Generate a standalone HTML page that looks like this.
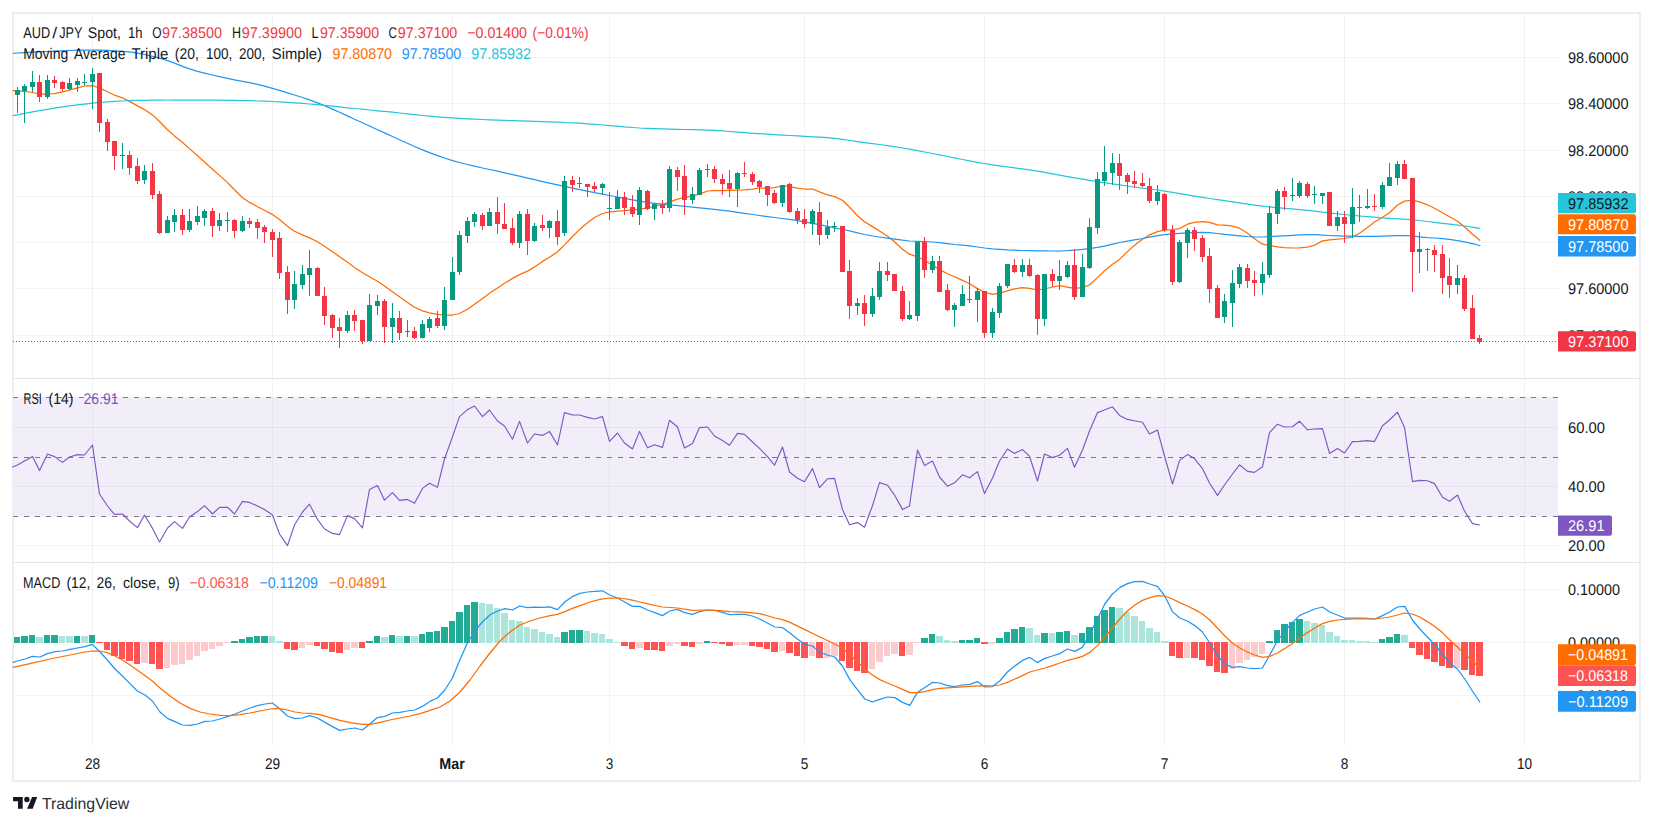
<!DOCTYPE html>
<html><head><meta charset="utf-8"><title>AUD/JPY Spot 1h - TradingView</title>
<style>html,body{margin:0;padding:0;background:#fff}body{width:1653px;height:825px;overflow:hidden}svg{display:block}</style>
</head><body>
<svg width="1653" height="825" viewBox="0 0 1653 825" font-family='"Liberation Sans", Arial, sans-serif' font-size="15.5" text-rendering="geometricPrecision">
<rect width="1653" height="825" fill="#fff"/>
<rect x="13" y="397" width="1545" height="120" fill="#7e57c2" fill-opacity="0.1"/>
<path d="M92.5 13V745.5M272.5 13V745.5M452.5 13V745.5M609.5 13V745.5M804.5 13V745.5M984.5 13V745.5M1164.5 13V745.5M1344.5 13V745.5M1524.5 13V745.5M13 57.5H1558M13 103.5H1558M13 150.5H1558M13 196.5H1558M13 242.5H1558M13 288.5H1558M13 335.5H1558M13 427.5H1558M13 486.5H1558M13 545.5H1558M13 589.5H1558M13 642.5H1558M13 695.5H1558" stroke="#2a2e39" stroke-opacity="0.06" stroke-width="1" fill="none"/>
<path d="M13 378.5H1640M13 562.5H1640" stroke="#e0e3eb" stroke-width="1" fill="none"/>
<rect x="13" y="13" width="1627" height="768" fill="none" stroke="#eceef3" stroke-width="2"/>
<path d="M13 397.5H1558M13 457.5H1558M13 516.5H1558" stroke="#787b86" stroke-width="1" stroke-dasharray="5 6" fill="none"/>
<path d="M13.0 90.6L17.5 90.8L24.5 91.4L32.5 92.5L39.5 94.0L47.5 94.0L54.5 93.7L62.5 91.9L69.5 90.1L77.5 87.9L84.5 86.0L92.5 85.7L99.5 87.9L107.5 91.8L114.5 95.2L122.5 97.8L129.5 101.4L137.5 105.9L144.5 109.6L152.5 114.9L159.5 121.5L167.5 129.7L174.5 135.9L182.5 142.6L189.5 148.6L197.5 155.7L204.5 162.0L212.5 169.2L219.5 175.4L227.5 182.6L234.5 189.8L242.5 197.8L249.5 202.4L257.5 206.7L264.5 210.2L272.5 214.6L279.5 219.6L287.5 226.2L294.5 231.3L302.5 234.9L309.5 237.9L317.5 241.8L324.5 246.2L332.5 251.7L339.5 256.7L347.5 262.3L354.5 267.4L362.5 272.7L369.5 276.7L377.5 281.3L384.5 286.0L392.5 291.7L399.5 296.7L407.5 302.4L414.5 307.2L422.5 310.9L429.5 312.9L437.5 314.3L444.5 315.0L452.5 315.0L459.5 313.5L467.5 309.2L474.5 304.3L482.5 298.4L489.5 293.3L497.5 287.9L504.5 283.3L512.5 278.4L519.5 274.6L527.5 271.2L534.5 266.9L542.5 261.4L549.5 257.2L557.5 251.8L564.5 244.9L572.5 236.5L579.5 229.6L587.5 222.8L594.5 217.5L602.5 213.5L609.5 211.9L617.5 211.1L624.5 210.6L632.5 209.9L639.5 209.1L647.5 207.8L654.5 206.5L662.5 204.4L669.5 202.1L677.5 199.1L684.5 197.5L692.5 195.9L699.5 194.2L707.5 191.0L714.5 190.7L722.5 190.6L729.5 190.4L737.5 190.1L744.5 189.8L752.5 189.1L759.5 188.0L767.5 188.0L774.5 187.7L782.5 186.0L789.5 186.7L797.5 188.1L804.5 189.0L812.5 189.0L819.5 191.9L827.5 194.9L834.5 196.6L842.5 200.3L849.5 207.3L857.5 215.8L864.5 221.7L872.5 226.6L879.5 231.0L887.5 236.2L894.5 241.7L902.5 249.2L909.5 254.2L917.5 256.8L924.5 260.2L932.5 265.3L939.5 269.6L947.5 273.7L954.5 276.8L962.5 280.4L969.5 283.7L977.5 288.6L984.5 292.2L992.5 294.4L999.5 293.1L1007.5 290.8L1014.5 288.9L1022.5 287.6L1029.5 288.4L1037.5 290.0L1044.5 289.0L1052.5 287.0L1059.5 285.6L1067.5 287.1L1074.5 288.4L1082.5 287.7L1089.5 285.0L1097.5 277.6L1104.5 270.8L1112.5 264.2L1119.5 259.4L1127.5 251.6L1134.5 245.3L1142.5 239.3L1149.5 234.8L1157.5 231.6L1164.5 230.2L1172.5 229.5L1179.5 228.6L1187.5 224.2L1194.5 222.4L1202.5 221.6L1209.5 222.3L1217.5 224.9L1224.5 225.2L1232.5 226.1L1239.5 228.2L1247.5 233.2L1254.5 238.7L1262.5 244.2L1269.5 245.6L1277.5 246.8L1284.5 247.6L1292.5 248.0L1299.5 247.8L1307.5 247.2L1314.5 245.2L1322.5 240.9L1329.5 239.9L1337.5 239.2L1344.5 238.5L1352.5 236.8L1359.5 233.3L1367.5 227.5L1374.5 222.0L1382.5 217.3L1389.5 212.8L1397.5 205.0L1404.5 201.1L1412.5 200.2L1419.5 201.9L1427.5 204.8L1434.5 208.2L1442.5 212.7L1449.5 216.8L1457.5 221.3L1464.5 226.8L1472.5 234.2L1479.5 240.1L1479.8 240.4" stroke="#ff6d00" stroke-width="1.25" fill="none" stroke-linejoin="round" stroke-linecap="round"/>
<path d="M13.3 53.3L17.5 53.0L24.5 52.6L32.5 52.2L39.5 51.9L47.5 51.5L54.5 51.2L62.5 50.8L69.5 50.5L77.5 50.2L84.5 50.1L92.5 50.0L99.5 50.1L107.5 50.4L114.5 50.8L122.5 51.3L129.5 51.9L137.5 53.1L144.5 54.5L152.5 56.4L159.5 58.2L167.5 60.6L174.5 63.2L182.5 66.4L189.5 68.9L197.5 71.3L204.5 73.1L212.5 75.0L219.5 76.6L227.5 78.4L234.5 79.9L242.5 81.4L249.5 82.7L257.5 84.4L264.5 86.1L272.5 88.3L279.5 90.4L287.5 92.9L294.5 95.0L302.5 97.5L309.5 99.8L317.5 102.8L324.5 105.7L332.5 109.1L339.5 112.2L347.5 115.9L354.5 119.2L362.5 122.8L369.5 126.0L377.5 129.7L384.5 132.9L392.5 136.5L399.5 139.7L407.5 143.3L414.5 146.5L422.5 149.9L429.5 152.7L437.5 155.6L444.5 158.0L452.5 160.6L459.5 162.5L467.5 164.5L474.5 166.1L482.5 168.0L489.5 169.5L497.5 171.2L504.5 172.8L512.5 174.6L519.5 176.2L527.5 178.1L534.5 179.7L542.5 181.6L549.5 183.2L557.5 184.9L564.5 186.4L572.5 188.1L579.5 189.6L587.5 191.2L594.5 192.6L602.5 194.2L609.5 195.5L617.5 197.0L624.5 198.4L632.5 199.9L639.5 201.1L647.5 202.4L654.5 203.3L662.5 204.2L669.5 204.9L677.5 205.6L684.5 206.3L692.5 207.1L699.5 207.8L707.5 208.6L714.5 209.4L722.5 210.3L729.5 211.2L737.5 212.4L744.5 213.4L752.5 214.5L759.5 215.5L767.5 216.6L774.5 217.5L782.5 218.5L789.5 219.4L797.5 220.6L804.5 221.8L812.5 223.3L819.5 224.7L827.5 226.4L834.5 227.9L842.5 229.5L849.5 230.9L857.5 232.8L864.5 234.5L872.5 236.0L879.5 237.0L887.5 238.1L894.5 239.1L902.5 240.2L909.5 241.0L917.5 241.3L924.5 241.5L932.5 242.0L939.5 242.7L947.5 243.7L954.5 244.5L962.5 245.2L969.5 245.9L977.5 247.0L984.5 248.0L992.5 248.8L999.5 249.3L1007.5 249.9L1014.5 250.2L1022.5 250.5L1029.5 250.6L1037.5 250.8L1044.5 250.9L1052.5 251.0L1059.5 251.0L1067.5 250.7L1074.5 250.1L1082.5 249.4L1089.5 248.6L1097.5 247.4L1104.5 246.1L1112.5 244.1L1119.5 242.5L1127.5 241.1L1134.5 239.9L1142.5 238.5L1149.5 237.1L1157.5 235.7L1164.5 234.7L1172.5 233.9L1179.5 233.3L1187.5 232.9L1194.5 232.6L1202.5 232.4L1209.5 232.6L1217.5 233.5L1224.5 234.4L1232.5 235.2L1239.5 235.8L1247.5 236.5L1254.5 236.9L1262.5 237.0L1269.5 236.7L1277.5 236.1L1284.5 235.8L1292.5 235.3L1299.5 234.9L1307.5 234.6L1314.5 234.7L1322.5 235.1L1329.5 235.5L1337.5 235.9L1344.5 236.1L1352.5 236.2L1359.5 236.3L1367.5 236.4L1374.5 236.4L1382.5 236.1L1389.5 235.8L1397.5 235.6L1404.5 235.6L1412.5 235.8L1419.5 236.9L1427.5 237.6L1434.5 238.0L1442.5 238.6L1449.5 239.4L1457.5 240.6L1464.5 241.8L1472.5 243.6L1479.5 245.5L1479.8 245.6" stroke="#2196f3" stroke-width="1.25" fill="none" stroke-linejoin="round" stroke-linecap="round"/>
<path d="M13.3 115.7L17.5 114.8L24.5 113.4L32.5 111.9L39.5 110.6L47.5 109.3L54.5 108.1L62.5 106.9L69.5 105.9L77.5 104.9L84.5 104.1L92.5 103.2L99.5 102.5L107.5 101.9L114.5 101.4L122.5 101.0L129.5 100.7L137.5 100.4L144.5 100.3L152.5 100.2L159.5 100.1L167.5 100.0L174.5 100.0L182.5 100.0L189.5 100.0L197.5 100.1L204.5 100.1L212.5 100.2L219.5 100.2L227.5 100.3L234.5 100.4L242.5 100.6L249.5 100.7L257.5 101.0L264.5 101.2L272.5 101.5L279.5 101.8L287.5 102.3L294.5 102.8L302.5 103.4L309.5 104.0L317.5 104.7L324.5 105.4L332.5 106.2L339.5 106.9L347.5 107.8L354.5 108.5L362.5 109.2L369.5 110.0L377.5 110.8L384.5 111.4L392.5 112.2L399.5 113.0L407.5 113.8L414.5 114.6L422.5 115.5L429.5 116.2L437.5 116.9L444.5 117.4L452.5 117.9L459.5 118.4L467.5 118.8L474.5 119.2L482.5 119.5L489.5 119.9L497.5 120.2L504.5 120.4L512.5 120.7L519.5 120.9L527.5 121.2L534.5 121.4L542.5 121.7L549.5 121.9L557.5 122.2L564.5 122.5L572.5 122.8L579.5 123.2L587.5 123.8L594.5 124.3L602.5 125.0L609.5 125.6L617.5 126.2L624.5 126.9L632.5 127.5L639.5 128.0L647.5 128.3L654.5 128.6L662.5 128.9L669.5 129.1L677.5 129.3L684.5 129.5L692.5 129.7L699.5 129.9L707.5 130.2L714.5 130.4L722.5 130.9L729.5 131.5L737.5 132.2L744.5 132.7L752.5 133.3L759.5 133.7L767.5 134.2L774.5 134.7L782.5 135.1L789.5 135.5L797.5 135.9L804.5 136.3L812.5 136.8L819.5 137.2L827.5 137.7L834.5 138.3L842.5 139.3L849.5 140.5L857.5 141.7L864.5 142.6L872.5 143.6L879.5 144.5L887.5 145.6L894.5 146.7L902.5 148.0L909.5 149.2L917.5 150.7L924.5 152.0L932.5 153.5L939.5 154.9L947.5 156.5L954.5 157.9L962.5 159.5L969.5 160.8L977.5 162.3L984.5 163.5L992.5 164.8L999.5 165.8L1007.5 166.9L1014.5 167.8L1022.5 168.9L1029.5 169.9L1037.5 171.2L1044.5 172.4L1052.5 173.9L1059.5 175.1L1067.5 176.6L1074.5 177.8L1082.5 179.1L1089.5 180.3L1097.5 181.6L1104.5 182.7L1112.5 183.9L1119.5 184.9L1127.5 186.0L1134.5 187.0L1142.5 188.1L1149.5 189.0L1157.5 190.0L1164.5 191.1L1172.5 192.4L1179.5 193.6L1187.5 194.9L1194.5 196.1L1202.5 197.4L1209.5 198.5L1217.5 199.7L1224.5 200.7L1232.5 201.9L1239.5 202.9L1247.5 204.1L1254.5 205.1L1262.5 206.2L1269.5 207.0L1277.5 207.7L1284.5 208.3L1292.5 208.9L1299.5 209.6L1307.5 210.4L1314.5 211.2L1322.5 212.2L1329.5 212.9L1337.5 213.8L1344.5 214.5L1352.5 215.3L1359.5 216.0L1367.5 216.7L1374.5 217.2L1382.5 217.9L1389.5 218.4L1397.5 218.8L1404.5 219.2L1412.5 219.8L1419.5 220.5L1427.5 221.5L1434.5 222.3L1442.5 223.3L1449.5 224.1L1457.5 225.1L1464.5 226.0L1472.5 227.2L1479.5 228.3L1479.8 228.4" stroke="#26c6da" stroke-width="1.25" fill="none" stroke-linejoin="round" stroke-linecap="round"/>
<path d="M17.5 87V113M24.5 84V123M32.5 71V92M47.5 75V99M69.5 78V90M77.5 78V92M84.5 74V86M92.5 68V109M122.5 143V169M144.5 165V184M167.5 216V233M174.5 209V232M189.5 209V232M197.5 206V225M204.5 209V226M219.5 213V231M227.5 212V232M242.5 216V232M294.5 271V309M302.5 265V289M309.5 250V296M347.5 311V333M369.5 294V341M377.5 295V315M392.5 303V343M407.5 320V337M422.5 320V338M429.5 317V332M444.5 287V330M452.5 257V300M459.5 231V275M467.5 217V243M474.5 212V227M489.5 208V226M519.5 211V248M534.5 223V242M549.5 220V238M564.5 176V236M602.5 183V195M609.5 192V220M617.5 190V209M639.5 187V225M654.5 204V220M669.5 166V212M692.5 187V204M699.5 168V195M707.5 164V177M737.5 172V207M782.5 185V207M812.5 209V235M827.5 220V239M834.5 222V232M857.5 298V315M872.5 288V317M879.5 262V300M909.5 301V320M917.5 242V321M932.5 256V273M954.5 303V327M962.5 285V306M969.5 276V303M977.5 288V322M992.5 308V338M999.5 283V318M1007.5 264V288M1022.5 259V277M1044.5 274V326M1059.5 260V290M1067.5 261V278M1082.5 254V297M1089.5 218V269M1097.5 172V234M1104.5 146V186M1112.5 153V185M1157.5 185V205M1179.5 240V283M1187.5 228V258M1224.5 294V323M1232.5 270V327M1239.5 264V288M1262.5 262V295M1269.5 206V278M1277.5 189V224M1292.5 178V201M1299.5 181V198M1314.5 186V204M1322.5 193V204M1337.5 211V231M1352.5 188V238M1359.5 195V222M1367.5 189V209M1382.5 182V209M1389.5 163V186M1397.5 161V185M1419.5 232V273M1457.5 265V294" stroke="#089981" stroke-width="1" fill="none"/>
<path d="M15.0 90h5v5h-5zM22.0 86h5v5h-5zM30.0 82h5v5h-5zM45.0 80h5v17h-5zM67.0 83h5v6h-5zM75.0 81h5v4h-5zM82.0 82h5v1h-5zM90.0 74h5v8h-5zM120.0 155h5v1h-5zM142.0 171h5v9h-5zM165.0 220h5v13h-5zM172.0 215h5v7h-5zM187.0 221h5v9h-5zM195.0 216h5v6h-5zM202.0 211h5v7h-5zM217.0 220h5v6h-5zM225.0 220h5v1h-5zM240.0 221h5v10h-5zM292.0 284h5v16h-5zM300.0 274h5v11h-5zM307.0 268h5v7h-5zM345.0 315h5v16h-5zM367.0 305h5v36h-5zM375.0 301h5v5h-5zM390.0 318h5v9h-5zM405.0 331h5v1h-5zM420.0 324h5v14h-5zM427.0 319h5v9h-5zM442.0 300h5v26h-5zM450.0 272h5v28h-5zM457.0 235h5v37h-5zM465.0 221h5v15h-5zM472.0 214h5v8h-5zM487.0 212h5v14h-5zM517.0 214h5v29h-5zM532.0 226h5v15h-5zM547.0 221h5v7h-5zM562.0 181h5v52h-5zM600.0 184h5v4h-5zM607.0 208h5v1h-5zM615.0 197h5v12h-5zM637.0 190h5v25h-5zM652.0 204h5v5h-5zM667.0 169h5v39h-5zM690.0 194h5v6h-5zM697.0 170h5v25h-5zM705.0 169h5v1h-5zM735.0 173h5v16h-5zM780.0 185h5v18h-5zM810.0 211h5v13h-5zM825.0 227h5v8h-5zM832.0 226h5v1h-5zM855.0 303h5v3h-5zM870.0 296h5v18h-5zM877.0 271h5v26h-5zM907.0 315h5v4h-5zM915.0 242h5v74h-5zM930.0 261h5v9h-5zM952.0 305h5v5h-5zM960.0 294h5v12h-5zM967.0 299h5v1h-5zM975.0 291h5v9h-5zM990.0 312h5v21h-5zM997.0 286h5v27h-5zM1005.0 264h5v22h-5zM1020.0 265h5v7h-5zM1042.0 274h5v45h-5zM1057.0 276h5v5h-5zM1065.0 265h5v12h-5zM1080.0 267h5v30h-5zM1087.0 227h5v41h-5zM1095.0 179h5v49h-5zM1102.0 172h5v9h-5zM1110.0 163h5v10h-5zM1155.0 192h5v9h-5zM1177.0 242h5v40h-5zM1185.0 230h5v13h-5zM1222.0 301h5v16h-5zM1230.0 283h5v20h-5zM1237.0 267h5v17h-5zM1260.0 274h5v9h-5zM1267.0 213h5v62h-5zM1275.0 191h5v23h-5zM1290.0 195h5v1h-5zM1297.0 183h5v13h-5zM1312.0 194h5v1h-5zM1320.0 193h5v3h-5zM1335.0 217h5v9h-5zM1350.0 207h5v17h-5zM1357.0 207h5v1h-5zM1365.0 206h5v2h-5zM1380.0 185h5v22h-5zM1387.0 177h5v9h-5zM1395.0 164h5v14h-5zM1417.0 249h5v3h-5zM1455.0 278h5v7h-5z" fill="#089981"/>
<path d="M39.5 75V102M54.5 76V88M62.5 81V91M99.5 73V132M107.5 119V151M114.5 141V170M129.5 151V175M137.5 158V184M152.5 163V199M159.5 191V234M182.5 209V235M212.5 208V237M234.5 219V238M249.5 218V228M257.5 219V239M264.5 225V243M272.5 229V257M279.5 232V279M287.5 266V314M317.5 267V296M324.5 287V325M332.5 314V338M339.5 318V348M354.5 310V331M362.5 320V344M384.5 299V343M399.5 311V340M414.5 327V339M437.5 311V328M482.5 213V230M497.5 197V234M504.5 203V229M512.5 218V245M527.5 209V255M542.5 215V231M557.5 210V245M572.5 176V192M579.5 177V188M587.5 184V197M594.5 182V192M624.5 192V215M632.5 195V217M647.5 190V210M662.5 200V214M677.5 167V191M684.5 165V215M714.5 166V183M722.5 174V195M729.5 170V197M744.5 162V177M752.5 172V185M759.5 180V193M767.5 186V206M774.5 190V204M789.5 183V213M797.5 208V224M804.5 209V228M819.5 202V245M842.5 226V272M849.5 260V319M864.5 295V326M887.5 262V281M894.5 274V291M902.5 286V321M924.5 237V278M939.5 256V292M947.5 284V311M984.5 291V338M1014.5 259V273M1029.5 259V277M1037.5 274V335M1052.5 269V287M1074.5 249V300M1119.5 154V190M1127.5 173V194M1134.5 171V188M1142.5 173V187M1149.5 178V203M1164.5 193V232M1172.5 225V285M1194.5 227V251M1202.5 235V262M1209.5 248V303M1217.5 285V318M1247.5 264V288M1254.5 271V296M1284.5 187V210M1307.5 182V198M1329.5 192V226M1344.5 211V243M1374.5 194V211M1404.5 160V179M1412.5 178V292M1427.5 248V271M1434.5 245V272M1442.5 245V294M1449.5 258V298M1464.5 275V311M1472.5 295V339M1479.5 335V344" stroke="#f23645" stroke-width="1" fill="none"/>
<path d="M37.0 82h5v15h-5zM52.0 80h5v3h-5zM60.0 82h5v7h-5zM97.0 73h5v50h-5zM105.0 122h5v20h-5zM112.0 141h5v15h-5zM127.0 155h5v13h-5zM135.0 166h5v15h-5zM150.0 171h5v24h-5zM157.0 194h5v39h-5zM180.0 215h5v15h-5zM210.0 211h5v15h-5zM232.0 220h5v11h-5zM247.0 221h5v3h-5zM255.0 222h5v6h-5zM262.0 227h5v5h-5zM270.0 232h5v8h-5zM277.0 238h5v35h-5zM285.0 272h5v28h-5zM315.0 268h5v28h-5zM322.0 296h5v20h-5zM330.0 315h5v13h-5zM337.0 327h5v4h-5zM352.0 315h5v6h-5zM360.0 320h5v21h-5zM382.0 301h5v26h-5zM397.0 318h5v15h-5zM412.0 331h5v7h-5zM435.0 318h5v8h-5zM480.0 215h5v11h-5zM495.0 212h5v12h-5zM502.0 224h5v5h-5zM510.0 228h5v15h-5zM525.0 214h5v27h-5zM540.0 225h5v3h-5zM555.0 221h5v16h-5zM570.0 180h5v5h-5zM577.0 183h5v1h-5zM585.0 184h5v3h-5zM592.0 186h5v3h-5zM622.0 197h5v11h-5zM630.0 207h5v7h-5zM645.0 191h5v18h-5zM660.0 205h5v3h-5zM675.0 170h5v7h-5zM682.0 176h5v24h-5zM712.0 169h5v10h-5zM720.0 179h5v5h-5zM727.0 183h5v6h-5zM742.0 173h5v1h-5zM750.0 174h5v8h-5zM757.0 181h5v6h-5zM765.0 186h5v9h-5zM772.0 193h5v10h-5zM787.0 184h5v28h-5zM795.0 211h5v9h-5zM802.0 219h5v5h-5zM817.0 212h5v23h-5zM840.0 226h5v46h-5zM847.0 271h5v35h-5zM862.0 303h5v11h-5zM885.0 271h5v4h-5zM892.0 274h5v17h-5zM900.0 291h5v28h-5zM922.0 242h5v28h-5zM937.0 261h5v31h-5zM945.0 290h5v20h-5zM982.0 291h5v42h-5zM1012.0 265h5v7h-5zM1027.0 265h5v11h-5zM1035.0 275h5v44h-5zM1050.0 274h5v7h-5zM1072.0 265h5v32h-5zM1117.0 163h5v13h-5zM1125.0 175h5v7h-5zM1132.0 181h5v3h-5zM1140.0 183h5v3h-5zM1147.0 186h5v15h-5zM1162.0 194h5v36h-5zM1170.0 230h5v52h-5zM1192.0 230h5v9h-5zM1200.0 238h5v19h-5zM1207.0 256h5v33h-5zM1215.0 288h5v30h-5zM1245.0 268h5v13h-5zM1252.0 280h5v3h-5zM1282.0 191h5v6h-5zM1305.0 184h5v12h-5zM1327.0 192h5v34h-5zM1342.0 217h5v7h-5zM1372.0 206h5v1h-5zM1402.0 164h5v15h-5zM1410.0 178h5v74h-5zM1425.0 249h5v1h-5zM1432.0 250h5v5h-5zM1440.0 254h5v24h-5zM1447.0 276h5v9h-5zM1462.0 278h5v31h-5zM1470.0 308h5v31h-5zM1477.0 338h5v4h-5z" fill="#f23645"/>
<path d="M13 341.5H1558" stroke="#f23645" stroke-width="1" stroke-dasharray="1 2" fill="none"/>
<path d="M12.6 467.0L17.5 465.0L24.5 461.0L32.5 456.4L39.5 470.6L47.5 454.0L54.5 456.6L62.5 462.4L69.5 457.0L77.5 454.6L84.5 455.0L92.5 445.0L99.5 494.0L107.5 506.0L114.5 514.4L122.5 514.0L129.5 521.0L137.5 527.6L144.5 515.0L152.5 528.4L159.5 542.0L167.5 528.0L174.5 521.6L182.5 528.4L189.5 517.0L197.5 511.6L204.5 505.6L212.5 514.0L219.5 507.4L227.5 507.2L234.5 514.0L242.5 501.4L249.5 502.4L257.5 506.0L264.5 509.6L272.5 515.0L279.5 534.0L287.5 545.6L294.5 525.0L302.5 512.0L309.5 504.2L317.5 519.4L324.5 529.0L332.5 533.4L339.5 534.6L347.5 515.6L354.5 518.6L362.5 527.8L369.5 489.4L377.5 485.6L384.5 500.2L392.5 492.6L399.5 500.4L407.5 499.4L414.5 503.2L422.5 488.4L429.5 483.2L437.5 487.2L444.5 459.0L452.5 436.6L459.5 416.6L467.5 409.6L474.5 406.0L482.5 416.6L489.5 410.0L497.5 421.0L504.5 426.0L512.5 439.2L519.5 421.4L527.5 443.0L534.5 434.0L542.5 435.4L549.5 431.4L557.5 445.0L564.5 412.6L572.5 415.0L579.5 415.0L587.5 417.4L594.5 419.0L602.5 416.6L609.5 441.4L617.5 433.0L624.5 443.0L632.5 449.0L639.5 431.4L647.5 447.8L654.5 444.8L662.5 447.4L669.5 420.2L677.5 427.0L684.5 448.0L692.5 443.4L699.5 427.6L707.5 427.0L714.5 436.0L722.5 440.6L729.5 445.2L737.5 433.4L744.5 434.4L752.5 442.0L759.5 448.4L767.5 456.6L774.5 465.2L782.5 447.0L789.5 472.0L797.5 478.2L804.5 481.8L812.5 468.6L819.5 487.6L827.5 478.8L834.5 478.4L842.5 509.6L849.5 524.8L857.5 522.6L864.5 527.2L872.5 505.6L879.5 482.6L887.5 485.2L894.5 495.0L902.5 509.4L909.5 506.0L917.5 450.0L924.5 465.6L932.5 461.0L939.5 477.0L947.5 486.2L954.5 482.8L962.5 474.8L969.5 477.8L977.5 471.6L984.5 493.6L992.5 478.0L999.5 461.0L1007.5 449.0L1014.5 453.4L1022.5 449.6L1029.5 456.2L1037.5 481.0L1044.5 454.0L1052.5 457.6L1059.5 455.2L1067.5 448.4L1074.5 467.2L1082.5 450.0L1089.5 431.0L1097.5 412.6L1104.5 410.0L1112.5 406.8L1119.5 415.4L1127.5 419.4L1134.5 420.8L1142.5 422.2L1149.5 434.0L1157.5 430.0L1164.5 456.0L1172.5 484.0L1179.5 460.6L1187.5 454.4L1194.5 458.6L1202.5 468.6L1209.5 483.0L1217.5 495.4L1224.5 485.0L1232.5 474.0L1239.5 464.8L1247.5 471.4L1254.5 472.4L1262.5 466.8L1269.5 432.6L1277.5 424.2L1284.5 427.0L1292.5 426.8L1299.5 421.2L1307.5 429.8L1314.5 429.0L1322.5 428.6L1329.5 453.4L1337.5 448.6L1344.5 453.0L1352.5 441.6L1359.5 441.4L1367.5 440.6L1374.5 441.6L1382.5 425.8L1389.5 420.0L1397.5 412.2L1404.5 427.4L1412.5 481.6L1419.5 480.4L1427.5 480.8L1434.5 483.6L1442.5 497.2L1449.5 501.2L1457.5 495.0L1464.5 511.0L1472.5 523.6L1479.5 525.0" stroke="#7e57c2" stroke-width="1.15" fill="none" stroke-linejoin="round" stroke-linecap="round"/>
<path d="M14 637H20V643H14zM21 636H28V643H21zM29 635H35V643H29zM44 635H50V643H44zM51 635H58V643H51zM74 636H80V643H74zM89 635H95V643H89zM231 641H238V643H231zM239 639H245V643H239zM246 637H253V643H246zM254 636H260V643H254zM261 636H268V643H261zM366 641H373V643H366zM374 636H380V643H374zM389 635H395V643H389zM404 636H410V643H404zM419 634H425V643H419zM426 632H433V643H426zM434 631H440V643H434zM441 627H448V643H441zM449 621H455V643H449zM456 612H463V643H456zM464 605H470V643H464zM471 602H478V643H471zM561 632H568V643H561zM569 630H575V643H569zM576 630H583V643H576zM704 641H710V643H704zM921 638H928V643H921zM929 634H935V643H929zM959 640H965V643H959zM966 640H973V643H966zM974 638H980V643H974zM996 638H1003V643H996zM1004 632H1010V643H1004zM1011 629H1018V643H1011zM1019 627H1025V643H1019zM1041 633H1048V643H1041zM1056 632H1063V643H1056zM1064 631H1070V643H1064zM1079 633H1085V643H1079zM1086 627H1093V643H1086zM1094 616H1100V643H1094zM1101 610H1108V643H1101zM1109 607H1115V643H1109zM1266 641H1273V643H1266zM1274 630H1280V643H1274zM1281 624H1288V643H1281zM1289 622H1295V643H1289zM1296 619H1303V643H1296zM1379 639H1385V643H1379zM1386 637H1393V643H1386zM1394 634H1400V643H1394z" fill="#22ab94"/>
<path d="M36 637H43V643H36zM59 636H65V643H59zM66 636H73V643H66zM81 636H88V643H81zM269 636H275V643H269zM276 641H283V643H276zM381 637H388V643H381zM396 636H403V643H396zM411 636H418V643H411zM479 603H485V643H479zM486 604H493V643H486zM494 608H500V643H494zM501 613H508V643H501zM509 620H515V643H509zM516 621H523V643H516zM524 627H530V643H524zM531 629H538V643H531zM539 632H545V643H539zM546 634H553V643H546zM554 637H560V643H554zM584 631H590V643H584zM591 633H598V643H591zM599 634H605V643H599zM606 639H613V643H606zM614 642H620V643H614zM936 636H943V643H936zM944 640H950V643H944zM951 641H958V643H951zM1026 628H1033V643H1026zM1034 635H1040V643H1034zM1049 633H1055V643H1049zM1071 635H1078V643H1071zM1116 608H1123V643H1116zM1124 612H1130V643H1124zM1131 616H1138V643H1131zM1139 621H1145V643H1139zM1146 628H1153V643H1146zM1154 632H1160V643H1154zM1161 641H1168V643H1161zM1304 621H1310V643H1304zM1311 623H1318V643H1311zM1319 625H1325V643H1319zM1326 632H1333V643H1326zM1334 636H1340V643H1334zM1341 640H1348V643H1341zM1349 640H1355V643H1349zM1356 641H1363V643H1356zM1364 641H1370V643H1364zM1371 642H1378V643H1371zM1401 635H1408V643H1401z" fill="#ace5dc"/>
<path d="M141 642H148V663H141zM164 642H170V668H164zM171 642H178V665H171zM179 642H185V664H179zM186 642H193V660H186zM194 642H200V656H194zM201 642H208V651H201zM209 642H215V649H209zM216 642H223V646H216zM224 642H230V643H224zM299 642H305V648H299zM306 642H313V645H306zM344 642H350V650H344zM351 642H358V648H351zM636 642H643V648H636zM666 642H673V646H666zM674 642H680V644H674zM696 642H703V644H696zM734 642H740V645H734zM741 642H748V645H741zM779 642H785V651H779zM809 642H815V656H809zM824 642H830V658H824zM831 642H838V656H831zM869 642H875V669H869zM876 642H883V662H876zM884 642H890V656H884zM891 642H898V654H891zM906 642H913V655H906zM914 642H920V643H914zM989 642H995V644H989zM1184 642H1190V658H1184zM1229 642H1235V669H1229zM1236 642H1243V663H1236zM1244 642H1250V660H1244zM1251 642H1258V657H1251zM1259 642H1265V654H1259zM1454 642H1460V668H1454z" fill="#fccbcd"/>
<path d="M96 642H103V643H96zM104 642H110V650H104zM111 642H118V656H111zM119 642H125V659H119zM126 642H133V661H126zM134 642H140V664H134zM149 642H155V664H149zM156 642H163V669H156zM284 642H290V649H284zM291 642H298V650H291zM314 642H320V646H314zM321 642H328V649H321zM329 642H335V652H329zM336 642H343V653H336zM359 642H365V648H359zM621 642H628V646H621zM629 642H635V649H629zM644 642H650V650H644zM651 642H658V650H651zM659 642H665V651H659zM681 642H688V646H681zM689 642H695V647H689zM711 642H718V643H711zM719 642H725V644H719zM726 642H733V646H726zM749 642H755V646H749zM756 642H763V647H756zM764 642H770V649H764zM771 642H778V652H771zM786 642H793V653H786zM794 642H800V656H794zM801 642H808V658H801zM816 642H823V658H816zM839 642H845V661H839zM846 642H853V668H846zM854 642H860V671H854zM861 642H868V673H861zM899 642H905V656H899zM981 642H988V644H981zM1169 642H1175V656H1169zM1176 642H1183V658H1176zM1191 642H1198V658H1191zM1199 642H1205V660H1199zM1206 642H1213V666H1206zM1214 642H1220V672H1214zM1221 642H1228V673H1221zM1409 642H1415V648H1409zM1416 642H1423V655H1416zM1424 642H1430V659H1424zM1431 642H1438V662H1431zM1439 642H1445V666H1439zM1446 642H1453V668H1446zM1461 642H1468V670H1461zM1469 642H1475V675H1469zM1476 642H1483V676H1476z" fill="#ff5252"/>
<path d="M13.0 662.4L17.4 661.0L25.0 659.0L32.4 656.4L40.0 657.0L47.4 653.6L55.0 651.6L62.4 651.0L70.0 649.4L77.4 648.0L85.0 646.6L92.4 644.4L100.0 652.0L107.4 660.0L115.0 669.0L122.4 676.0L130.0 683.6L137.4 691.0L145.0 695.0L152.4 701.0L160.0 712.0L167.4 718.4L175.0 721.6L182.4 725.0L190.0 725.4L197.4 724.0L205.0 721.4L212.4 721.0L220.0 719.0L227.4 716.6L235.0 714.0L242.4 711.0L250.0 708.0L257.4 705.6L265.0 704.0L272.4 703.0L280.0 709.0L287.4 716.0L295.0 718.6L302.4 718.0L310.0 715.6L317.4 718.0L325.0 722.4L332.4 726.6L339.8 730.4L347.4 729.0L354.8 728.0L362.4 730.0L369.8 724.0L377.4 717.6L384.8 716.4L392.4 713.0L399.8 712.4L407.4 711.0L414.8 710.0L422.4 706.4L429.8 701.4L437.4 698.0L444.8 690.0L452.4 678.0L459.8 660.0L467.4 643.0L474.8 631.0L482.4 622.0L489.8 615.0L497.4 611.0L504.8 608.6L512.4 610.0L519.8 606.0L527.4 607.6L534.8 607.2L542.4 607.4L549.8 606.8L557.4 609.6L564.8 602.0L572.4 596.6L579.8 593.4L587.4 592.0L594.8 591.4L602.4 590.8L609.8 595.0L617.4 598.0L624.8 602.0L632.4 606.4L639.8 606.4L647.4 610.0L654.8 612.6L662.4 615.6L669.8 611.0L677.4 609.4L684.8 612.6L692.4 614.4L699.8 611.6L707.4 610.0L714.8 610.4L722.4 612.4L729.8 614.6L737.4 614.4L744.8 614.4L752.4 616.0L759.8 619.0L767.4 623.0L774.8 627.0L782.4 627.6L789.8 633.0L797.4 639.0L804.8 644.4L812.4 646.0L819.8 652.0L827.4 655.0L834.8 657.0L842.4 666.0L849.8 679.6L857.4 689.6L864.8 699.0L872.4 702.0L879.8 699.4L887.4 697.0L894.8 697.6L902.4 702.4L909.8 705.4L917.4 692.4L924.8 687.4L932.4 682.4L940.0 683.0L947.4 685.6L954.8 686.6L962.4 685.0L969.8 684.4L977.4 681.6L984.8 687.0L992.4 686.6L999.8 681.0L1007.4 672.0L1014.8 666.0L1022.4 660.4L1029.8 657.4L1037.4 662.6L1044.8 658.4L1052.4 656.0L1059.8 653.6L1067.4 649.0L1074.8 651.4L1082.4 647.4L1089.8 634.0L1097.4 619.0L1104.8 604.0L1112.4 594.0L1119.8 587.6L1127.4 583.6L1134.8 581.6L1142.4 581.4L1149.8 584.0L1157.4 586.4L1164.8 596.0L1172.4 611.6L1179.8 618.0L1187.4 621.0L1194.8 625.6L1202.4 632.0L1209.8 643.0L1217.4 655.6L1224.8 664.0L1232.4 667.4L1239.8 666.6L1247.4 668.0L1254.8 668.6L1262.4 668.0L1269.8 655.0L1277.4 641.0L1284.8 631.0L1292.4 622.4L1299.8 615.4L1307.4 612.0L1314.8 609.0L1322.4 607.0L1329.8 612.0L1337.4 615.0L1344.8 618.0L1352.4 618.0L1359.8 618.0L1367.4 618.4L1374.8 619.0L1382.4 615.6L1389.8 612.0L1397.4 607.0L1404.8 606.4L1412.4 620.0L1419.8 629.0L1427.4 637.0L1434.8 645.0L1442.4 654.0L1449.8 663.0L1457.4 669.0L1464.8 679.0L1472.4 691.0L1479.8 702.0" stroke="#2196f3" stroke-width="1.25" fill="none" stroke-linejoin="round" stroke-linecap="round"/>
<path d="M13.0 667.4L30.0 663.6L50.0 659.0L70.0 655.0L85.0 652.0L92.4 651.0L100.0 651.0L107.4 652.6L115.0 656.0L122.4 660.0L130.0 665.0L140.0 672.0L152.4 681.0L160.0 688.0L170.0 696.0L180.0 703.0L190.0 708.4L200.0 712.0L210.0 714.0L220.0 715.4L230.0 715.6L240.0 714.6L250.0 713.0L260.0 711.0L270.0 709.0L278.0 708.4L287.4 710.0L295.0 712.0L302.4 713.0L310.0 713.4L320.0 714.6L330.0 717.6L340.0 720.4L350.0 722.6L362.4 724.4L370.0 724.4L380.0 722.4L390.0 720.0L400.0 718.0L410.0 716.0L420.0 713.6L430.0 710.4L440.0 707.0L450.0 701.0L460.0 692.0L470.0 680.0L480.0 666.0L490.0 653.0L500.0 641.0L510.0 632.0L520.0 625.0L530.0 621.0L540.0 618.0L550.0 615.6L557.4 614.4L564.8 611.6L572.4 608.4L580.0 605.6L590.0 602.0L600.0 599.4L610.0 598.0L620.0 598.0L630.0 599.6L640.0 602.0L650.0 604.4L662.4 607.0L677.4 608.0L692.4 610.4L707.4 610.0L720.0 610.6L730.0 611.6L745.0 612.2L760.0 613.6L774.8 618.0L782.4 619.6L790.0 622.4L804.8 629.6L820.0 637.0L834.8 644.0L842.4 648.0L850.0 655.0L857.4 662.0L864.8 669.0L872.4 675.0L879.8 679.6L887.4 683.0L894.8 686.0L902.4 689.4L909.8 692.6L917.4 692.6L924.8 691.6L932.4 689.6L939.8 688.4L954.8 687.4L969.8 686.4L984.8 685.6L992.4 686.0L999.8 685.0L1007.4 682.4L1014.8 679.0L1022.4 675.6L1029.8 672.0L1037.4 670.0L1044.8 668.0L1052.4 665.6L1059.8 663.0L1067.4 660.4L1074.8 658.6L1082.4 656.4L1089.8 652.4L1097.4 645.6L1104.8 637.0L1112.4 628.0L1119.8 619.0L1127.4 611.0L1134.8 605.0L1142.4 600.4L1149.8 597.6L1157.4 595.6L1164.8 596.0L1172.4 599.0L1179.8 602.6L1187.4 606.0L1194.8 609.6L1202.4 614.0L1209.8 620.0L1217.4 628.0L1224.8 636.0L1232.4 643.0L1239.8 648.0L1247.4 652.0L1254.8 655.0L1262.4 657.4L1269.8 656.4L1277.4 653.0L1284.8 648.4L1292.4 643.4L1299.8 638.0L1307.4 632.6L1314.8 628.0L1322.4 623.6L1329.8 621.4L1337.4 620.0L1344.8 619.4L1352.4 619.0L1359.8 618.8L1367.4 618.8L1374.8 619.0L1382.4 618.0L1389.8 617.0L1397.4 615.0L1404.8 613.0L1412.4 614.0L1419.8 617.0L1427.4 621.6L1434.8 626.6L1442.4 632.6L1449.8 640.0L1457.4 647.0L1464.8 654.0L1472.4 661.0L1479.8 668.0" stroke="#ff6d00" stroke-width="1.25" fill="none" stroke-linejoin="round" stroke-linecap="round"/>
<text x="23.2" y="37.9" fill="#131722" textLength="26.9" lengthAdjust="spacingAndGlyphs">AUD</text>
<text x="52.2" y="37.9" fill="#131722" textLength="4.9" lengthAdjust="spacingAndGlyphs">/</text>
<text x="59.2" y="37.9" fill="#131722" textLength="23.3" lengthAdjust="spacingAndGlyphs">JPY</text>
<text x="87.8" y="37.9" fill="#131722" textLength="33.1" lengthAdjust="spacingAndGlyphs">Spot,</text>
<text x="127.9" y="37.9" fill="#131722" textLength="14.5" lengthAdjust="spacingAndGlyphs">1h</text>
<text x="152.2" y="37.9" fill="#131722" textLength="9.3" lengthAdjust="spacingAndGlyphs">O</text>
<text x="162.0" y="37.9" fill="#f23645" textLength="60.0" lengthAdjust="spacingAndGlyphs">97.38500</text>
<text x="232.0" y="37.9" fill="#131722" textLength="9.0" lengthAdjust="spacingAndGlyphs">H</text>
<text x="241.8" y="37.9" fill="#f23645" textLength="60.2" lengthAdjust="spacingAndGlyphs">97.39900</text>
<text x="311.6" y="37.9" fill="#131722" textLength="7.0" lengthAdjust="spacingAndGlyphs">L</text>
<text x="320.0" y="37.9" fill="#f23645" textLength="59.0" lengthAdjust="spacingAndGlyphs">97.35900</text>
<text x="388.4" y="37.9" fill="#131722" textLength="8.4" lengthAdjust="spacingAndGlyphs">C</text>
<text x="397.8" y="37.9" fill="#f23645" textLength="59.5" lengthAdjust="spacingAndGlyphs">97.37100</text>
<text x="467.3" y="37.9" fill="#f23645" textLength="59.7" lengthAdjust="spacingAndGlyphs">−0.01400</text>
<text x="532.6" y="37.9" fill="#f23645" textLength="55.9" lengthAdjust="spacingAndGlyphs">(−0.01%)</text>
<text x="23.2" y="58.8" fill="#131722" textLength="45.1" lengthAdjust="spacingAndGlyphs">Moving</text>
<text x="74.1" y="58.8" fill="#131722" textLength="51.3" lengthAdjust="spacingAndGlyphs">Average</text>
<text x="131.4" y="58.8" fill="#131722" textLength="36.9" lengthAdjust="spacingAndGlyphs">Triple</text>
<text x="174.8" y="58.8" fill="#131722" textLength="24.0" lengthAdjust="spacingAndGlyphs">(20,</text>
<text x="206.0" y="58.8" fill="#131722" textLength="26.2" lengthAdjust="spacingAndGlyphs">100,</text>
<text x="239.0" y="58.8" fill="#131722" textLength="26.2" lengthAdjust="spacingAndGlyphs">200,</text>
<text x="271.8" y="58.8" fill="#131722" textLength="50.2" lengthAdjust="spacingAndGlyphs">Simple)</text>
<text x="332.5" y="58.8" fill="#ff6d00" textLength="59.5" lengthAdjust="spacingAndGlyphs">97.80870</text>
<text x="401.8" y="58.8" fill="#2196f3" textLength="59.5" lengthAdjust="spacingAndGlyphs">97.78500</text>
<text x="471.3" y="58.8" fill="#26c6da" textLength="59.7" lengthAdjust="spacingAndGlyphs">97.85932</text>
<text x="23.6" y="403.7" fill="#131722" textLength="18.2" lengthAdjust="spacingAndGlyphs">RSI</text>
<text x="48.5" y="403.7" fill="#131722" textLength="24.8" lengthAdjust="spacingAndGlyphs">(14)</text>
<text x="83.6" y="403.7" fill="#7e57c2" textLength="34.9" lengthAdjust="spacingAndGlyphs">26.91</text>
<text x="23.1" y="588.0" fill="#131722" textLength="37.2" lengthAdjust="spacingAndGlyphs">MACD</text>
<text x="66.4" y="588.0" fill="#131722" textLength="23.9" lengthAdjust="spacingAndGlyphs">(12,</text>
<text x="96.6" y="588.0" fill="#131722" textLength="19.4" lengthAdjust="spacingAndGlyphs">26,</text>
<text x="123.0" y="588.0" fill="#131722" textLength="37.0" lengthAdjust="spacingAndGlyphs">close,</text>
<text x="168.0" y="588.0" fill="#131722" textLength="11.6" lengthAdjust="spacingAndGlyphs">9)</text>
<text x="189.6" y="588.0" fill="#ff5252" textLength="59.4" lengthAdjust="spacingAndGlyphs">−0.06318</text>
<text x="259.4" y="588.0" fill="#2196f3" textLength="58.6" lengthAdjust="spacingAndGlyphs">−0.11209</text>
<text x="329.0" y="588.0" fill="#ff6d00" textLength="58.0" lengthAdjust="spacingAndGlyphs">−0.04891</text>
<text x="1568.0" y="62.5" fill="#131722" textLength="60.5" lengthAdjust="spacingAndGlyphs">98.60000</text>
<text x="1568.0" y="108.5" fill="#131722" textLength="60.5" lengthAdjust="spacingAndGlyphs">98.40000</text>
<text x="1568.0" y="155.5" fill="#131722" textLength="60.5" lengthAdjust="spacingAndGlyphs">98.20000</text>
<text x="1568.0" y="201.6" fill="#131722" textLength="60.5" lengthAdjust="spacingAndGlyphs">98.00000</text>
<text x="1568.0" y="247.7" fill="#131722" textLength="60.5" lengthAdjust="spacingAndGlyphs">97.80000</text>
<text x="1568.0" y="293.6" fill="#131722" textLength="60.5" lengthAdjust="spacingAndGlyphs">97.60000</text>
<text x="1568.0" y="340.5" fill="#131722" textLength="60.5" lengthAdjust="spacingAndGlyphs">97.40000</text>
<text x="1568.0" y="432.6" fill="#131722" textLength="37.0" lengthAdjust="spacingAndGlyphs">60.00</text>
<text x="1568.0" y="491.6" fill="#131722" textLength="37.0" lengthAdjust="spacingAndGlyphs">40.00</text>
<text x="1568.0" y="550.6" fill="#131722" textLength="37.0" lengthAdjust="spacingAndGlyphs">20.00</text>
<text x="1568.0" y="594.6" fill="#131722" textLength="52.0" lengthAdjust="spacingAndGlyphs">0.10000</text>
<text x="1568.0" y="647.6" fill="#131722" textLength="52.0" lengthAdjust="spacingAndGlyphs">0.00000</text>
<text x="1568.5" y="700.7" fill="#131722" textLength="58.5" lengthAdjust="spacingAndGlyphs">−0.10000</text>
<path d="M1558 193.0H1634a2 2 0 0 1 2 2V211.3a2 2 0 0 1 -2 2H1558z" fill="#26c6da"/>
<text x="1568.0" y="208.7" fill="#131722" textLength="60.5" lengthAdjust="spacingAndGlyphs">97.85932</text>
<path d="M1558 214.3H1634a2 2 0 0 1 2 2V232.3a2 2 0 0 1 -2 2H1558z" fill="#ff6d00"/>
<text x="1568.0" y="229.8" fill="#fff" textLength="60.5" lengthAdjust="spacingAndGlyphs">97.80870</text>
<path d="M1558 236.0H1634a2 2 0 0 1 2 2V254.5a2 2 0 0 1 -2 2H1558z" fill="#2196f3"/>
<text x="1568.0" y="251.8" fill="#fff" textLength="60.5" lengthAdjust="spacingAndGlyphs">97.78500</text>
<path d="M1558 331.2H1634a2 2 0 0 1 2 2V349.6a2 2 0 0 1 -2 2H1558z" fill="#f23645"/>
<text x="1568.0" y="346.9" fill="#fff" textLength="60.5" lengthAdjust="spacingAndGlyphs">97.37100</text>
<path d="M1558 515.5H1610a2 2 0 0 1 2 2V533.7a2 2 0 0 1 -2 2H1558z" fill="#7e57c2"/>
<text x="1568.0" y="531.1" fill="#fff" textLength="36.5" lengthAdjust="spacingAndGlyphs">26.91</text>
<path d="M1558 644.3H1634a2 2 0 0 1 2 2V662.9a2 2 0 0 1 -2 2H1558z" fill="#ff6d00"/>
<text x="1568.0" y="660.1" fill="#fff" textLength="60.0" lengthAdjust="spacingAndGlyphs">−0.04891</text>
<path d="M1558 665.3H1634a2 2 0 0 1 2 2V683.9a2 2 0 0 1 -2 2H1558z" fill="#ff5252"/>
<text x="1568.0" y="681.1" fill="#fff" textLength="60.0" lengthAdjust="spacingAndGlyphs">−0.06318</text>
<path d="M1558 691.1H1634a2 2 0 0 1 2 2V709.8a2 2 0 0 1 -2 2H1558z" fill="#2196f3"/>
<text x="1568.0" y="707.0" fill="#fff" textLength="60.0" lengthAdjust="spacingAndGlyphs">−0.11209</text>
<text x="84.9" y="768.9" fill="#131722" textLength="15.2" lengthAdjust="spacingAndGlyphs">28</text>
<text x="264.9" y="768.9" fill="#131722" textLength="15.2" lengthAdjust="spacingAndGlyphs">29</text>
<text x="605.7" y="768.9" fill="#131722" textLength="7.6" lengthAdjust="spacingAndGlyphs">3</text>
<text x="800.7" y="768.9" fill="#131722" textLength="7.6" lengthAdjust="spacingAndGlyphs">5</text>
<text x="980.7" y="768.9" fill="#131722" textLength="7.6" lengthAdjust="spacingAndGlyphs">6</text>
<text x="1160.7" y="768.9" fill="#131722" textLength="7.6" lengthAdjust="spacingAndGlyphs">7</text>
<text x="1340.7" y="768.9" fill="#131722" textLength="7.6" lengthAdjust="spacingAndGlyphs">8</text>
<text x="1516.9" y="768.9" fill="#131722" textLength="15.2" lengthAdjust="spacingAndGlyphs">10</text>
<text x="439.3" y="768.9" fill="#131722" textLength="25.5" lengthAdjust="spacingAndGlyphs" font-weight="bold">Mar</text>
<g fill="#131722"><path d="M13.1 796.9H22.7V808.8H18V801.2H13.1z"/><circle cx="26.9" cy="799.45" r="2.7"/><path d="M32.1 796.9H37.2L32.7 808.8H27.1z"/></g>
<text x="41.9" y="808.6" fill="#2a2e39" textLength="87.4" lengthAdjust="spacingAndGlyphs" font-size="15.9">TradingView</text>
</svg>
</body></html>
